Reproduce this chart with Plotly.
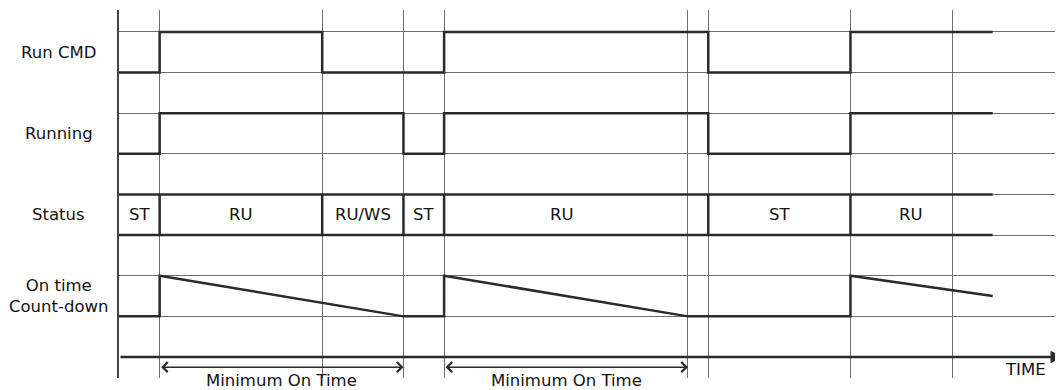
import plotly.graph_objects as go

# time unit ~ one grid step; signals
grid_t = [1, 5, 7, 8, 14, 14.5, 18, 20.5]
grid_y = [1, 2, 3, 4, 5, 6, 7, 8]

run_cmd_t = [0, 1, 5, 8, 14.5, 18, 21.5]
run_cmd_v = [0, 1, 0, 1, 0, 1, 1]

running_t = [0, 1, 7, 8, 14.5, 18, 21.5]
running_v = [0, 1, 0, 1, 0, 1, 1]

status_edges = [0, 1, 5, 7, 8, 14.5, 18, 21.5]
status_labels = ["ST", "RU", "RU/WS", "ST", "RU", "ST", "RU"]
status_label_t = [0.5, 3, 6, 7.5, 10.9, 16.25, 19.5]

countdown_t = [0, 1, 1, 7, 8, 8, 14, 18, 18, 21.5]
countdown_v = [0, 0, 1, 0, 0, 1, 0, 0, 1, 0.5]

min_on_spans = [(1, 7), (8, 14)]
row_names = ["Run CMD", "Running", "Status", "On time<br>Count-down"]
row_base = [7, 5, 3, 1]

t_end = 23.23
FONT = "DejaVu Sans"
FS = 16.5
INK = "#2a2a2a"

fig = go.Figure()

# Run CMD / Running
fig.add_trace(go.Scatter(x=run_cmd_t, y=[row_base[0] + v for v in run_cmd_v],
                         mode="lines", line=dict(color=INK, width=2.5, shape="hv")))
fig.add_trace(go.Scatter(x=running_t, y=[row_base[1] + v for v in running_v],
                         mode="lines", line=dict(color=INK, width=2.5, shape="hv")))

# status band
sx, sy = [], []
b = row_base[2]
sx += [status_edges[0], status_edges[-1], None, status_edges[0], status_edges[-1], None]
sy += [b, b, None, b + 1, b + 1, None]
for e in status_edges[1:-1]:
    sx += [e, e, None]
    sy += [b, b + 1, None]
fig.add_trace(go.Scatter(x=sx, y=sy, mode="lines", line=dict(color=INK, width=2.5)))
for lab, t in zip(status_labels, status_label_t):
    fig.add_annotation(x=t, y=b + 0.5, text=lab, showarrow=False,
                       font=dict(family=FONT, size=FS, color="#111"))

# count-down
fig.add_trace(go.Scatter(x=countdown_t, y=[row_base[3] + v for v in countdown_v],
                         mode="lines", line=dict(color=INK, width=2.5)))

# row labels
for name, base in zip(row_names, row_base):
    fig.add_annotation(x=-0.064, xref="paper", y=base + 0.5, text=name,
                       showarrow=False, xanchor="center",
                       font=dict(family=FONT, size=FS, color="#111"))

# time axis with arrow
fig.add_annotation(x=t_end, y=0, ax=0, ay=0, axref="x", ayref="y",
                   text="", showarrow=True, arrowhead=2, arrowsize=1,
                   arrowwidth=2.5, arrowcolor=INK, standoff=0)
fig.add_annotation(x=22.3, y=-0.3, text="TIME", showarrow=False,
                   font=dict(family=FONT, size=FS, color="#111"))

# minimum on time arrows
for t0, t1 in min_on_spans:
    fig.add_annotation(x=t1, y=-0.25, ax=t0, ay=-0.25, axref="x", ayref="y",
                       text="", showarrow=True, arrowhead=4, arrowside="end+start",
                       arrowsize=1.3, arrowwidth=1.5, arrowcolor=INK,
                       standoff=0, startstandoff=0)
    fig.add_annotation(x=(t0 + t1) / 2, y=-0.0326, yref="paper", yanchor="bottom",
                       yshift=-2, text="Minimum On Time", showarrow=False,
                       font=dict(family=FONT, size=FS, color="#111"))

fig.update_xaxes(range=[0, t_end], tickvals=grid_t, showticklabels=False,
                 showgrid=True, gridcolor="#6e6e6e", gridwidth=1,
                 zeroline=False, showline=False, ticks="")
fig.update_yaxes(range=[-0.517, 8.54], tickvals=grid_y, showticklabels=False,
                 showgrid=True, gridcolor="#6e6e6e", gridwidth=1,
                 zeroline=False, showline=True, linecolor="#444", linewidth=2,
                 ticks="")
# page body adds an 8px offset, so the figure is 8px smaller and shifted back
fig.update_layout(width=1055, height=382, showlegend=False,
                  margin=dict(l=111, r=0, t=2, b=12, autoexpand=False),
                  plot_bgcolor="white", paper_bgcolor="white")

fig.write_html("out.html")
